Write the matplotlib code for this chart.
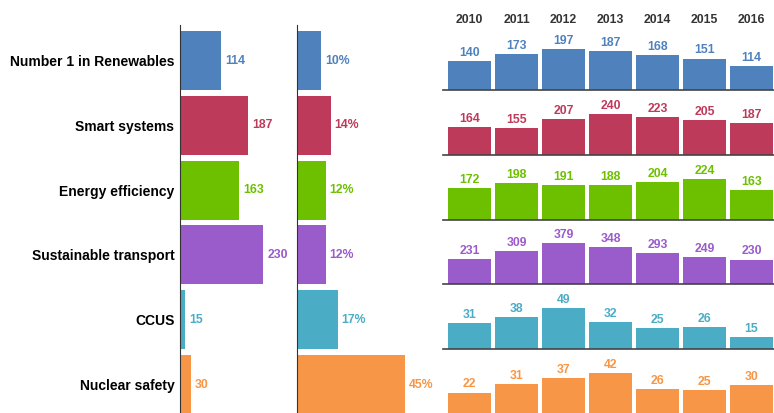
import matplotlib.pyplot as plt
import numpy as np

plt.rcParams['font.family'] = ['Liberation Sans', 'DejaVu Sans']
plt.rcParams['font.weight'] = 'bold'

categories = ['Number 1 in Renewables', 'Smart systems', 'Energy efficiency',
              'Sustainable transport', 'CCUS', 'Nuclear safety']
colors = ['#4f81bd', '#be3a5a', '#6cc000', '#9a5bcb', '#4bacc6', '#f79646']
years = ['2010', '2011', '2012', '2013', '2014', '2015', '2016']

latest = [114, 187, 163, 230, 15, 30]
share = [10, 14, 12, 12, 17, 45]

renewables = [140, 173, 197, 187, 168, 151, 114]
smart = [164, 155, 207, 240, 223, 205, 187]
efficiency = [172, 198, 191, 188, 204, 224, 163]
transport = [231, 309, 379, 348, 293, 249, 230]
ccus = [31, 38, 49, 32, 25, 26, 15]
nuclear = [22, 31, 37, 42, 26, 25, 30]
history = [renewables, smart, efficiency, transport, ccus, nuclear]

W, H = 774, 413
fig = plt.figure(figsize=(W / 100, H / 100), dpi=100)

def px_axes(x0, y0, x1, y1):
    # axes from pixel box (top-left origin)
    return fig.add_axes([x0 / W, 1 - y1 / H, (x1 - x0) / W, (y1 - y0) / H])

text_gray = '#444444'
pitch = 64.8
top0 = 31
bar_h = 59 / pitch
# rows: center of row i at i, top of axis at 25 px, bottom at 413 px
y_top = -(top0 + 29.5 - 25) / pitch
y_bot = (H - (top0 + 29.5)) / pitch
rows = np.arange(len(categories))

# left panel: latest values
ax1 = px_axes(179, 25, 292, H)
ax1.barh(rows, latest, height=bar_h, color=colors)
ax1.set_ylim(y_bot, y_top)
ax1.set_xlim(-1 / 0.365, 113 / 0.365)
ax1.set_yticks(rows, categories, fontsize=10.4, color=text_gray)
ax1.tick_params(axis='y', length=0, pad=4)
ax1.set_xticks([])
for s in ['top', 'right', 'bottom']:
    ax1.spines[s].set_visible(False)
ax1.spines['left'].set_position(('data', 0))
ax1.spines['left'].set_color('#333333')
for i, v in enumerate(latest):
    ax1.annotate(str(v), (v, i), xytext=(3, 0), textcoords='offset points',
                 va='center', ha='left', fontsize=8.8, color=colors[i])

# middle panel: share
ax2 = px_axes(297, 25, 440, H)
ax2.barh(rows, share, height=bar_h, color=colors)
ax2.set_ylim(y_bot, y_top)
ax2.set_xlim(-0.5 / 2.4, 143 / 2.4)
ax2.set_xticks([])
ax2.set_yticks([])
for s in ['top', 'right', 'bottom']:
    ax2.spines[s].set_visible(False)
ax2.spines['left'].set_position(('data', 0))
ax2.spines['left'].set_color('#333333')
for i, v in enumerate(share):
    ax2.annotate(f'{v}%', (v, i), xytext=(2.5, 0), textcoords='offset points',
                 va='center', ha='left', fontsize=8.8, color=colors[i])

# right panel: yearly small multiples
xs = np.arange(len(years))
for i, vals in enumerate(history):
    base = top0 + 59 + i * pitch
    ax = px_axes(443, base - 60, 774, base)
    ax.bar(xs, vals, width=43 / 47, color=colors[i])
    ax.set_xlim(-26.5 / 47, 6 + 22.5 / 47)
    ax.set_ylim(0, max(vals) * 60 / 41)
    ax.set_xticks([])
    ax.set_yticks([])
    for s in ['top', 'right', 'left']:
        ax.spines[s].set_visible(False)
    ax.spines['bottom'].set_color('#444444')
    ax.spines['bottom'].set_linewidth(1.2)
    for j, v in enumerate(vals):
        ax.annotate(str(v), (j, v), xytext=(0, 1.5), textcoords='offset points',
                    ha='center', va='bottom', fontsize=8.8, color=colors[i])
    if i == 0:
        for j, yr in enumerate(years):
            ax.annotate(yr, (j, 1), xycoords=('data', 'axes fraction'),
                        xytext=(0, 7), textcoords='offset points',
                        ha='center', va='center', fontsize=8.8, color='#333333')

fig.savefig('out.png', dpi=100)
